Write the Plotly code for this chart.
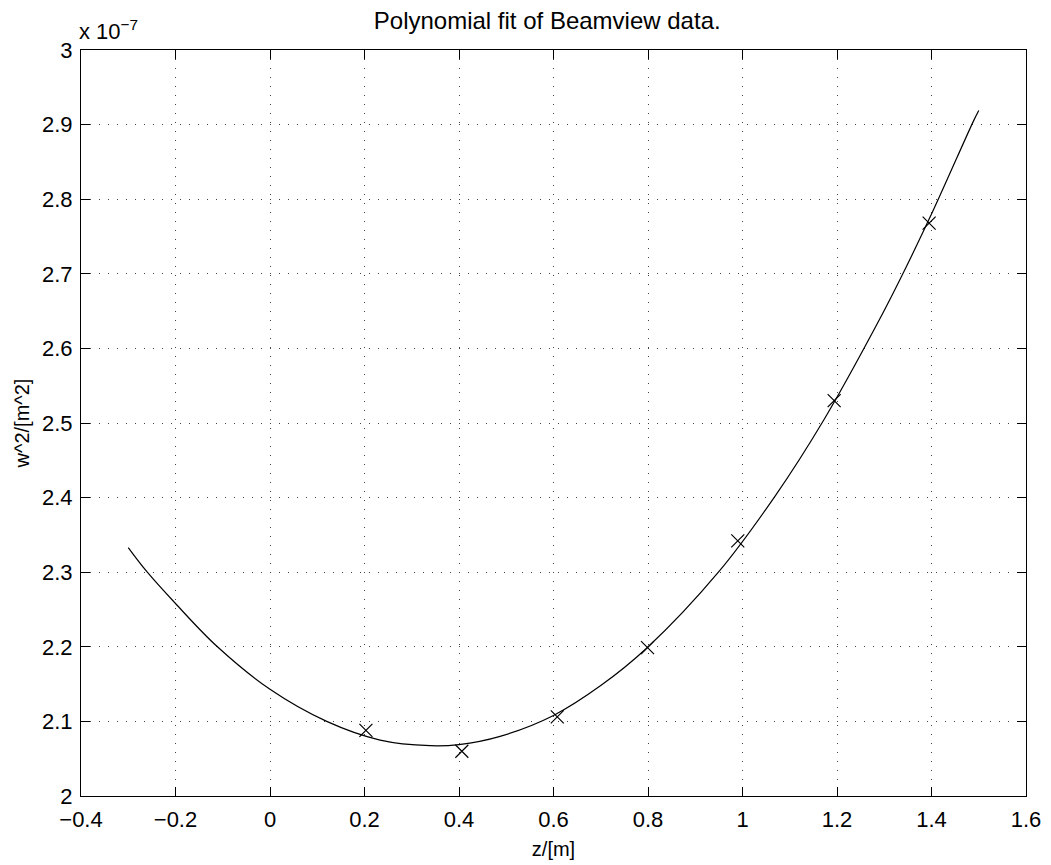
import plotly.graph_objects as go

# Measured data (w^2 in units of 1e-7 m^2)
z_data = [0.203, 0.406, 0.608, 0.799, 0.990, 1.194, 1.395]
w2_data = [2.088, 2.060, 2.106, 2.199, 2.342, 2.530, 2.768]

# Fitted curve
z_fit = [-0.300, -0.261, -0.200, -0.113, 0.000, 0.120, 0.233, 0.339, 0.400, 0.487,
         0.600, 0.700, 0.797, 0.949, 1.069, 1.172, 1.291, 1.337, 1.400, 1.489, 1.500]
w2_fit = [2.333, 2.301, 2.258, 2.201, 2.143, 2.100, 2.075, 2.0675, 2.069, 2.080,
          2.108, 2.148, 2.198, 2.300, 2.402, 2.504, 2.640, 2.697, 2.780, 2.905, 2.919]

x_ticks = [-0.4, -0.2, 0, 0.2, 0.4, 0.6, 0.8, 1, 1.2, 1.4, 1.6]
y_ticks = [2, 2.1, 2.2, 2.3, 2.4, 2.5, 2.6, 2.7, 2.8, 2.9, 3]
x_ticktext = ["\u22120.4", "\u22120.2", "0", "0.2", "0.4", "0.6", "0.8", "1", "1.2", "1.4", "1.6"]
y_ticktext = ["2", "2.1", "2.2", "2.3", "2.4", "2.5", "2.6", "2.7", "2.8", "2.9", "3"]

FONT = "Liberation Sans, Arial, sans-serif"

fig = go.Figure()
fig.add_trace(go.Scatter(x=z_fit, y=w2_fit, mode="lines",
                         line=dict(color="black", width=1.2, shape="spline", smoothing=1.0),
                         showlegend=False, hoverinfo="skip"))
fig.add_trace(go.Scatter(x=z_data, y=w2_data, mode="markers",
                         marker=dict(symbol="x-thin-open", size=13, color="black",
                                     line=dict(color="black", width=1.2)),
                         showlegend=False))

axis_common = dict(
    showline=True, linecolor="black", linewidth=1, mirror="ticks",
    ticks="inside", ticklen=9, tickcolor="black", tickwidth=1,
    showgrid=True, gridcolor="#444", gridwidth=1, griddash="1px,8px",
    zeroline=False, automargin=False,
    tickfont=dict(family=FONT, size=22, color="black"),
)

fig.update_xaxes(range=[-0.4, 1.6], tickvals=x_ticks, ticktext=x_ticktext, ticklabelstandoff=4,
                 title=dict(text="z/[m]", font=dict(family=FONT, size=20, color="black"), standoff=10),
                 **axis_common)
fig.update_yaxes(range=[2, 3], tickvals=y_ticks, ticktext=y_ticktext, ticklabelstandoff=3,
                 title=dict(text="w^2/[m^2]", font=dict(family=FONT, size=20, color="black"), standoff=7),
                 **axis_common)

fig.add_annotation(x=0, y=1, xref="paper", yref="paper", xanchor="left", yanchor="bottom",
                   text="x 10<sup>\u22127</sup>", showarrow=False, yshift=4, xshift=-4,
                   font=dict(family=FONT, size=22, color="black"))

fig.update_layout(
    width=1043, height=857,
    margin=dict(l=73, r=25, t=42, b=69),
    paper_bgcolor="white", plot_bgcolor="white",
    title=dict(text="Polynomial fit of Beamview data.", x=0.517, xanchor="center", y=0.985, yanchor="middle",
               font=dict(family=FONT, size=24, color="black")),
)

fig.write_html("out.html")
